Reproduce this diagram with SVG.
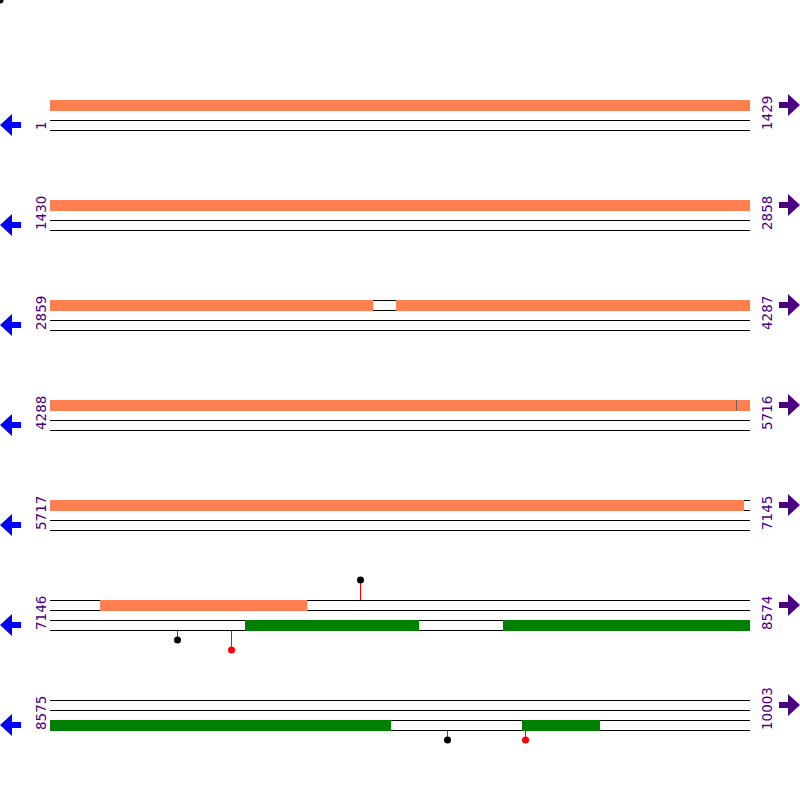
<svg xmlns="http://www.w3.org/2000/svg" width="800" height="800" viewBox="0 0 800 800">
<style>
.t{stroke:#000;stroke-width:1;fill:none}
.o{fill:#FF7F50}
.g{fill:#008000}
.lab{font-family:"DejaVu Sans",sans-serif;font-size:13.5px;fill:#4B0082}
.la{fill:#0000FF}
.ra{fill:#4B0082}
.stem{stroke:#FF0000;stroke-width:1}
</style>
<defs>
<polygon id="larrow" points="0,0 12,-11 12,-3 21,-3 21,3 12,3 12,11"/>
<polygon id="rarrow" points="0,0 -12,-11 -12,-3 -21,-3 -21,3 -12,3 -12,11"/>
<g id="track">
<line class="t" x1="50" y1="0.5" x2="750" y2="0.5"/>
<line class="t" x1="50" y1="10.5" x2="750" y2="10.5"/>
<line class="t" x1="50" y1="20.5" x2="750" y2="20.5"/>
<line class="t" x1="50" y1="30.5" x2="750" y2="30.5"/>
</g>
</defs>
<rect width="800" height="800" fill="#fff"/>
<circle cx="0" cy="0" r="3.5" fill="#000"/>

<g id="row1">
<use href="#track" y="100"/>
<rect class="o" x="50" y="100" width="700" height="11"/>
<use href="#larrow" class="la" x="0" y="125"/>
<use href="#rarrow" class="ra" x="800" y="105"/>
<text class="lab" transform="translate(46,130) rotate(-90)">1</text>
<text class="lab" transform="translate(772,130) rotate(-90)">1429</text>
</g>

<g id="row2">
<use href="#track" y="200"/>
<rect class="o" x="50" y="200" width="700" height="11"/>
<use href="#larrow" class="la" x="0" y="225"/>
<use href="#rarrow" class="ra" x="800" y="205"/>
<text class="lab" transform="translate(46,230) rotate(-90)">1430</text>
<text class="lab" transform="translate(772,230) rotate(-90)">2858</text>
</g>

<g id="row3">
<use href="#track" y="300"/>
<rect class="o" x="50" y="300" width="323" height="11"/>
<rect class="o" x="396" y="300" width="354" height="11"/>
<use href="#larrow" class="la" x="0" y="325"/>
<use href="#rarrow" class="ra" x="800" y="305"/>
<text class="lab" transform="translate(46,330) rotate(-90)">2859</text>
<text class="lab" transform="translate(772,330) rotate(-90)">4287</text>
</g>

<g id="row4">
<use href="#track" y="400"/>
<rect class="o" x="50" y="400" width="700" height="11"/>
<line x1="736.5" y1="400" x2="736.5" y2="411" stroke="#666" stroke-width="1"/>
<use href="#larrow" class="la" x="0" y="425"/>
<use href="#rarrow" class="ra" x="800" y="405"/>
<text class="lab" transform="translate(46,430) rotate(-90)">4288</text>
<text class="lab" transform="translate(772,430) rotate(-90)">5716</text>
</g>

<g id="row5">
<use href="#track" y="500"/>
<rect class="o" x="50" y="500" width="694" height="11"/>
<use href="#larrow" class="la" x="0" y="525"/>
<use href="#rarrow" class="ra" x="800" y="505"/>
<text class="lab" transform="translate(46,530) rotate(-90)">5717</text>
<text class="lab" transform="translate(772,530) rotate(-90)">7145</text>
</g>

<g id="row6">
<use href="#track" y="600"/>
<rect class="o" x="100" y="600" width="207" height="11"/>
<rect class="g" x="245" y="620" width="174" height="11"/>
<rect class="g" x="503" y="620" width="247" height="11"/>
<use href="#larrow" class="la" x="0" y="625"/>
<use href="#rarrow" class="ra" x="800" y="605"/>
<text class="lab" transform="translate(46,630) rotate(-90)">7146</text>
<text class="lab" transform="translate(772,630) rotate(-90)">8574</text>
</g>

<g id="row7">
<use href="#track" y="700"/>
<rect class="g" x="50" y="720" width="341" height="11"/>
<rect class="g" x="522" y="720" width="78" height="11"/>
<use href="#larrow" class="la" x="0" y="725"/>
<use href="#rarrow" class="ra" x="800" y="705"/>
<text class="lab" transform="translate(46,730) rotate(-90)">8575</text>
<text class="lab" transform="translate(772,730) rotate(-90)">10003</text>
</g>

<g id="markers">
<line class="stem" x1="360.5" y1="580" x2="360.5" y2="600"/>
<circle cx="360.5" cy="580" r="3.5" fill="#000"/>
<line class="stem" x1="177.5" y1="631" x2="177.5" y2="640"/>
<circle cx="177.5" cy="640" r="3.5" fill="#000"/>
<line class="stem" x1="231.5" y1="631" x2="231.5" y2="650"/>
<circle cx="231.5" cy="650" r="3.5" fill="#FF0000"/>
<line class="stem" x1="447.5" y1="731" x2="447.5" y2="740"/>
<circle cx="447.5" cy="740" r="3.5" fill="#000"/>
<line class="stem" x1="525.5" y1="731" x2="525.5" y2="740"/>
<circle cx="525.5" cy="740" r="3.5" fill="#FF0000"/>
</g>
</svg>
